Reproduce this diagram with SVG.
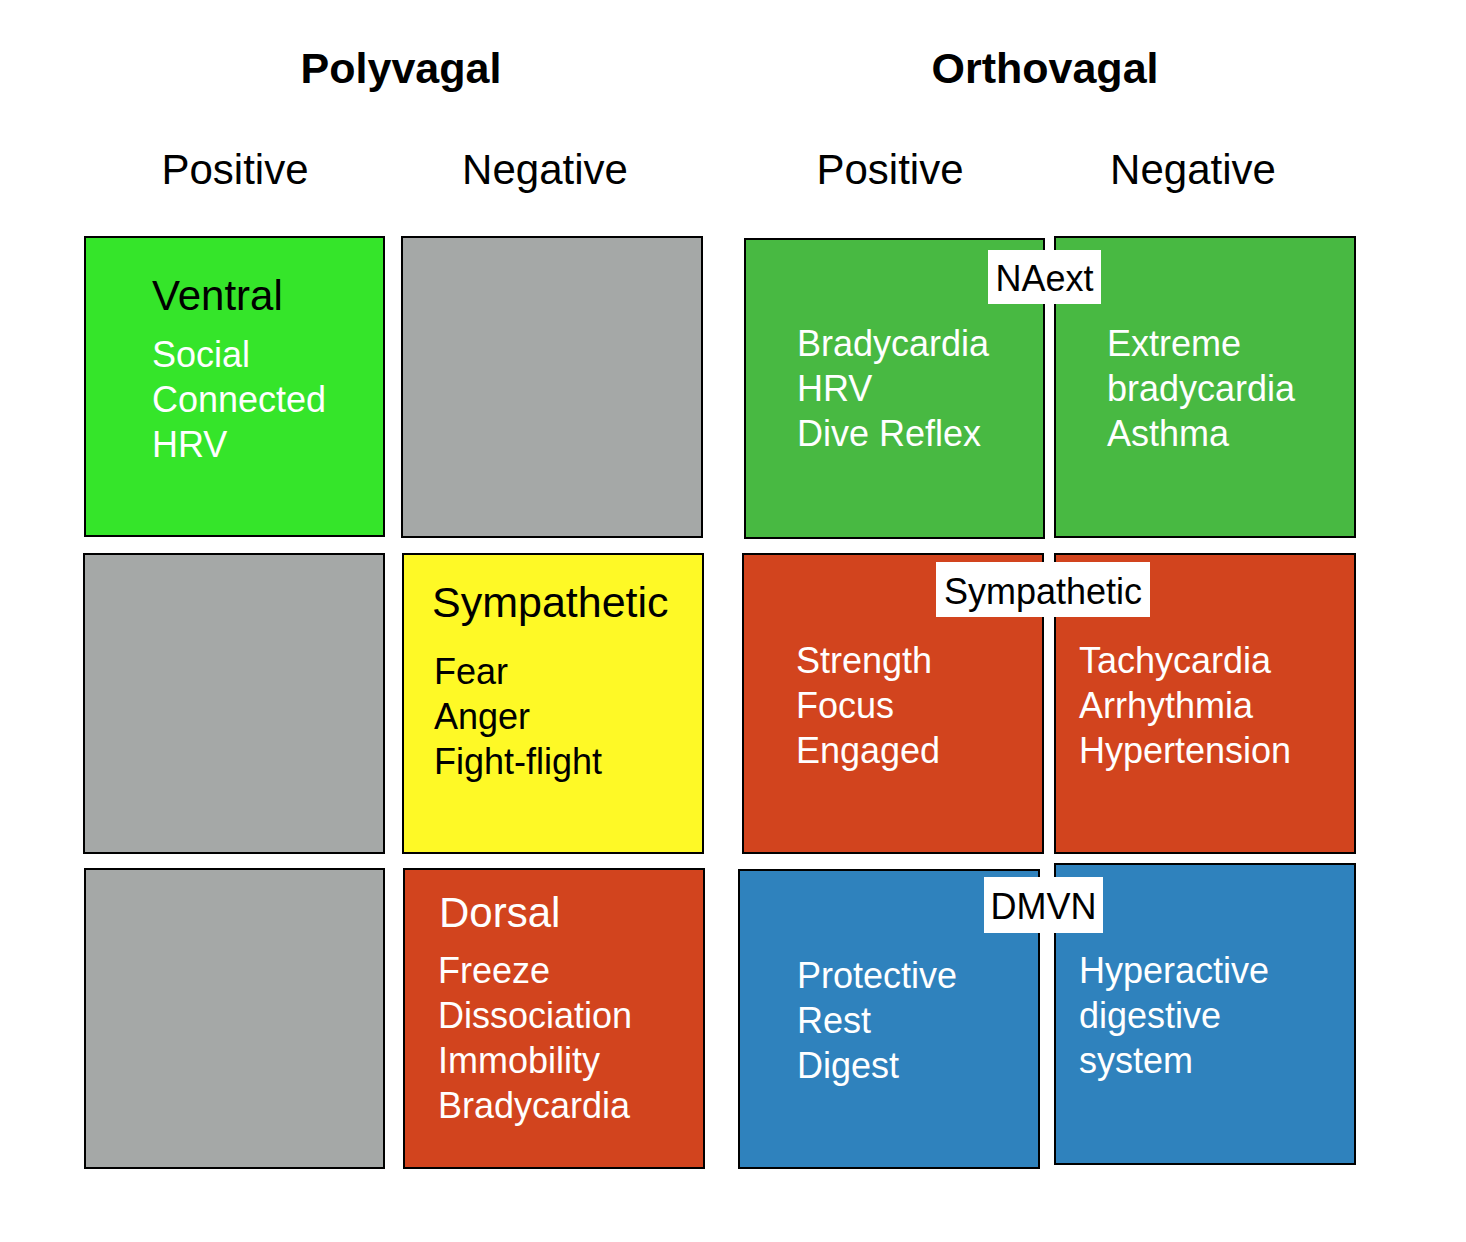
<svg xmlns="http://www.w3.org/2000/svg" width="1466" height="1242" viewBox="0 0 1466 1242">
<style>
text{font-family:"Liberation Sans",Arial,Helvetica,sans-serif;}
.title{font-size:43px;font-weight:bold;fill:#000;text-anchor:middle;}
.col{font-size:42px;fill:#000;text-anchor:middle;}
.box{stroke:#000;stroke-width:2;}
.head{font-size:42px;}
.item{font-size:36px;fill:#fff;}
.blk{fill:#000;}
.lbl{fill:#fff;}
.lt{font-size:36px;fill:#000;text-anchor:middle;}
.gray{fill:#A5A8A7;}
.lime{fill:#35E52A;}
.yel{fill:#FEF926;}
.red{fill:#D2441E;}
.grn{fill:#48B942;}
.blu{fill:#2F82BD;}
</style>
<rect width="1466" height="1242" fill="#fff"/>
<g id="headers">
<text class="title" x="401" y="83">Polyvagal</text>
<text class="title" x="1045" y="83">Orthovagal</text>
<text class="col" x="235" y="184">Positive</text>
<text class="col" x="545" y="184">Negative</text>
<text class="col" x="890" y="184">Positive</text>
<text class="col" x="1193" y="184">Negative</text>
</g>
<g id="ventral">
<rect class="box lime" x="85" y="237" width="299" height="299"/>
<text class="head blk" x="152" y="310">Ventral</text>
<text class="item" x="152" y="367">Social</text>
<text class="item" x="152" y="412">Connected</text>
<text class="item" x="152" y="457">HRV</text>
</g>
<g id="poly-neg-top"><rect class="box gray" x="402" y="237" width="300" height="300"/></g>
<g id="poly-pos-mid"><rect class="box gray" x="84" y="554" width="300" height="299"/></g>
<g id="poly-sympathetic">
<rect class="box yel" x="403" y="554" width="300" height="299"/>
<text class="head blk" x="432" y="617" style="font-size:43px">Sympathetic</text>
<text class="item blk" x="434" y="684">Fear</text>
<text class="item blk" x="434" y="729">Anger</text>
<text class="item blk" x="434" y="774">Fight-flight</text>
</g>
<g id="poly-pos-bot"><rect class="box gray" x="85" y="869" width="299" height="299"/></g>
<g id="dorsal">
<rect class="box red" x="404" y="869" width="300" height="299"/>
<text class="head" x="439" y="927" fill="#fff">Dorsal</text>
<text class="item" x="438" y="983">Freeze</text>
<text class="item" x="438" y="1028">Dissociation</text>
<text class="item" x="438" y="1073">Immobility</text>
<text class="item" x="438" y="1118">Bradycardia</text>
</g>
<g id="ortho-naext-pos">
<rect class="box grn" x="745" y="239" width="299" height="299"/>
<text class="item" x="797" y="356">Bradycardia</text>
<text class="item" x="797" y="401">HRV</text>
<text class="item" x="797" y="446">Dive Reflex</text>
</g>
<g id="ortho-naext-neg">
<rect class="box grn" x="1055" y="237" width="300" height="300"/>
<text class="item" x="1107" y="356">Extreme</text>
<text class="item" x="1107" y="401">bradycardia</text>
<text class="item" x="1107" y="446">Asthma</text>
</g>
<g id="ortho-symp-pos">
<rect class="box red" x="743" y="554" width="300" height="299"/>
<text class="item" x="796" y="673">Strength</text>
<text class="item" x="796" y="718">Focus</text>
<text class="item" x="796" y="763">Engaged</text>
</g>
<g id="ortho-symp-neg">
<rect class="box red" x="1055" y="554" width="300" height="299"/>
<text class="item" x="1079" y="673">Tachycardia</text>
<text class="item" x="1079" y="718">Arrhythmia</text>
<text class="item" x="1079" y="763">Hypertension</text>
</g>
<g id="ortho-dmvn-pos">
<rect class="box blu" x="739" y="870" width="300" height="298"/>
<text class="item" x="797" y="988">Protective</text>
<text class="item" x="797" y="1033">Rest</text>
<text class="item" x="797" y="1078">Digest</text>
</g>
<g id="ortho-dmvn-neg">
<rect class="box blu" x="1055" y="864" width="300" height="300"/>
<text class="item" x="1079" y="983">Hyperactive</text>
<text class="item" x="1079" y="1028">digestive</text>
<text class="item" x="1079" y="1073">system</text>
</g>
<g id="label-naext">
<rect class="lbl" x="988" y="250" width="113" height="54"/>
<text class="lt" x="1044.5" y="291">NAext</text>
</g>
<g id="label-sympathetic">
<rect class="lbl" x="936" y="562" width="214" height="55"/>
<text class="lt" x="1043" y="604">Sympathetic</text>
</g>
<g id="label-dmvn">
<rect class="lbl" x="984" y="877" width="119" height="56"/>
<text class="lt" x="1043.5" y="919">DMVN</text>
</g>
<g id="connectors"/>
</svg>
